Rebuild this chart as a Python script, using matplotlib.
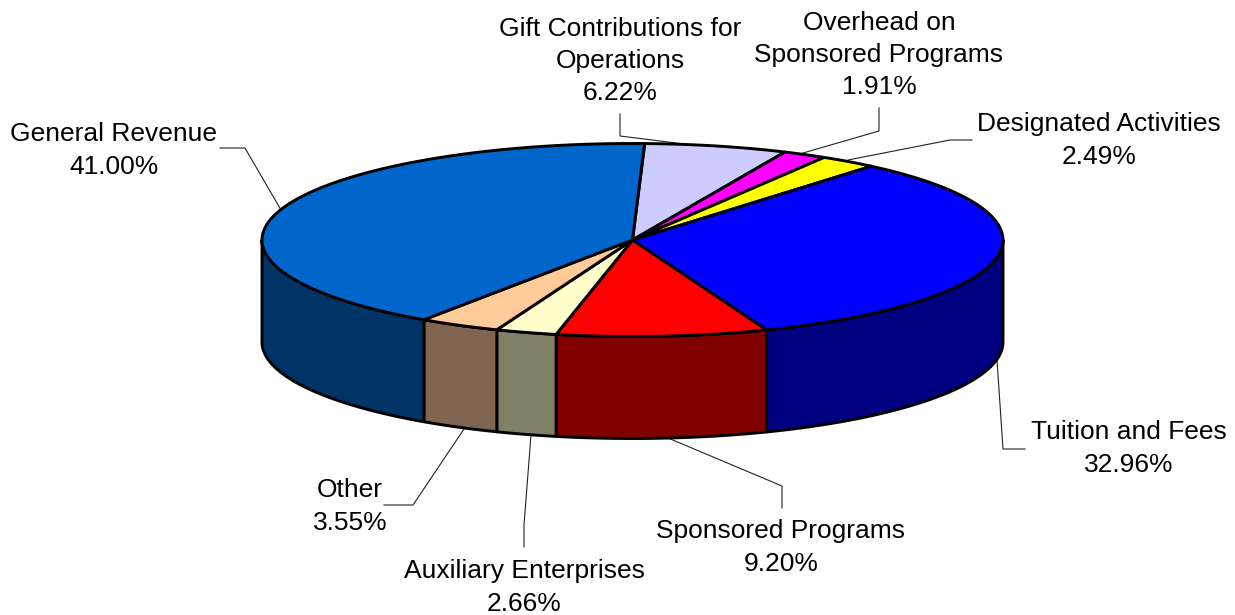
import numpy as np
import matplotlib
matplotlib.use("Agg")
import matplotlib.pyplot as plt
from matplotlib.patches import Polygon

# clockwise from the top of the pie
labels = ["Gift Contributions for\nOperations", "Overhead on\nSponsored Programs",
          "Designated Activities", "Tuition and Fees", "Sponsored Programs",
          "Auxiliary Enterprises", "Other", "General Revenue"]
shares = [6.22, 1.91, 2.49, 32.96, 9.20, 2.66, 3.55, 41.00]
top_colors = ["#CCCCFF", "#FF00FF", "#FFFF00", "#0000FF", "#FF0000",
              "#FFFFCC", "#FFCC99", "#0066CC"]
side_colors = ["#666680", "#800080", "#808000", "#000080", "#800000",
               "#808066", "#806650", "#003366"]

label_pos = [(620, 61), (879, 55), (1099, 140.5), (1129, 448.5), (781, 547.5),
             (524, 587.5), (350, 506.5), (114, 150.5)]
leaders = [
    [(620, 114), (620, 136), (700, 146)],
    [(879, 108), (879, 131), (803, 153)],
    [(972, 140), (950, 140), (848, 160)],
    [(1025, 449), (1003, 449), (997, 360)],
    [(782, 508), (782, 486), (668, 438)],
    [(524, 547), (524, 525), (531, 435)],
    [(384, 505), (413, 505), (464, 429)],
    [(220, 148), (245, 148), (281, 210)],
]

cx, cy = 632.5, 240
rx, ry = 370.5, 96.5
depth = 102
start_angle = 88.1


def rim(a0, a1, dy=0):
    t = np.radians(np.linspace(a0, a1, max(int(abs(a1 - a0) * 3), 2)))
    return np.column_stack([cx + rx * np.cos(t), cy + dy - ry * np.sin(t)])


fig = plt.figure(figsize=(12.35, 6.15), dpi=100)
ax = fig.add_axes([0, 0, 1, 1])
ax.set_xlim(0, 1235)
ax.set_ylim(615, 0)
ax.axis("off")

plt.rcParams["font.family"] = ["Liberation Sans", "DejaVu Sans"]

edge = dict(edgecolor="black", linewidth=2.1, joinstyle="round")

# wedge boundaries, general revenue wraps around past the left
angles = start_angle - np.cumsum([0] + shares) * 3.6

# side walls first, only the front half of the rim shows
for i in range(len(shares)):
    a0, a1 = angles[i], angles[i + 1]
    # front half runs from 0 to -180
    lo, hi = max(a1, -180), min(a0, 0)
    if lo >= hi:
        continue
    front = rim(hi, lo)
    back = rim(lo, hi, depth)
    ax.add_patch(Polygon(np.vstack([front, back]), closed=True,
                         facecolor=side_colors[i], zorder=2, **edge))

# top faces
for i in range(len(shares)):
    pts = np.vstack([[cx, cy], rim(angles[i], angles[i + 1])])
    ax.add_patch(Polygon(pts, closed=True, facecolor=top_colors[i], zorder=3, **edge))

# leader lines and labels
for i, name in enumerate(labels):
    xs, ys = zip(*leaders[i])
    ax.plot(xs, ys, color="#222222", lw=0.8, zorder=1, solid_joinstyle="miter")
    ax.text(label_pos[i][0], label_pos[i][1], f"{name}\n{shares[i]:.2f}%",
            ha="center", va="center", fontsize=19, linespacing=1.43,
            color="black", zorder=5)

fig.savefig("out.png", dpi=100, facecolor="white")
